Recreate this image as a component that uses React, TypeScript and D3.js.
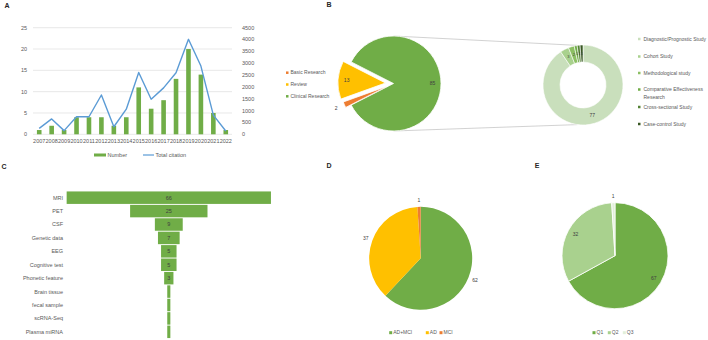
import { useEffect, useRef } from "react";
import * as d3 from "d3";

// A: publications per year + total citations
const years = ["2007", "2008", "2009", "2010", "2011", "2012", "2013", "2014", "2015", "2016", "2017", "2018", "2019", "2020", "2021", "2022"];
const pubCounts = [1, 2, 1, 4, 4, 4, 2, 4, 11, 6, 8, 13, 20, 14, 5, 1];
const citations = [250, 650, 155, 740, 740, 1660, 320, 1060, 2610, 1480, 1960, 2600, 4010, 2880, 810, 140];

// B: study type (pie) and clinical design breakdown (donut)
const studyTypes = ["Clinical Research", "Basic Research", "Review"];
const studyCounts = [85, 2, 13];
const legendOrderB = ["Basic Research", "Review", "Clinical Research"];
const designTypes = ["Diagnostic/Prognostic Study", "Cohort Study", "Methodological study", "Comparative Effectiveness Research", "Cross-sectional Study", "Case-control Study"];
const designCounts = [77, 3, 2, 1, 1, 1];

// C: data modality funnel
const modalities = ["MRI", "PET", "CSF", "Genetic data", "EEG", "Cognitive test", "Phonetic feature", "Brain tissue", "fecal sample", "scRNA-Seq", "Plasma miRNA"];
const modalityCounts = [66, 25, 9, 7, 5, 5, 3, 1, 1, 1, 1];

// D: subjects
const subjectGroups = ["AD+MCI", "AD", "MCI"];
const subjectCounts = [62, 37, 1];

// E: journal quartile
const quartiles = ["Q1", "Q2", "Q3"];
const quartileCounts = [67, 32, 1];

export default function App() {
    const svgRef = useRef<SVGSVGElement>(null);

    useEffect(() => {
        if (!svgRef.current) return;
        const svg = d3.select(svgRef.current);
        svg.selectAll("*").remove();

        const txt = "#595959";
        const green = "#70ad47";
        svg.attr("width", 708).attr("height", 340)
            .style("font-family", "'Liberation Sans', Arial, sans-serif");
        svg.append("rect").attr("width", 708).attr("height", 340).attr("fill", "#fff");

        // panel letters
        const letters: [string, number, number][] = [["A", 7, 6], ["B", 329, 5], ["C", 4, 167], ["D", 329, 166], ["E", 537, 166]];
        svg.selectAll("text.letter").data(letters).join("text")
            .attr("x", d => d[1]).attr("y", d => d[2])
            .attr("text-anchor", "middle").attr("dy", "0.35em")
            .attr("font-size", 7).attr("font-weight", "bold").attr("fill", "#262626")
            .text(d => d[0]);

        // ---------- A ----------
        const aL = 33, aR = 232, aT = 27.7, aB = 134.3;
        const x = d3.scaleBand().domain(years).range([aL, aR]);
        const yL = d3.scaleLinear().domain([0, 25]).range([aB, aT]);
        const yR = d3.scaleLinear().domain([0, 4500]).range([aB, aT]);
        const gA = svg.append("g");

        gA.selectAll("line.grid").data(yL.ticks(5)).join("line")
            .attr("x1", aL).attr("x2", aR)
            .attr("y1", d => yL(d)).attr("y2", d => yL(d))
            .attr("stroke", "#d9d9d9").attr("stroke-width", 0.6);

        gA.selectAll("text.yl").data(yL.ticks(5)).join("text")
            .attr("x", 27).attr("y", d => yL(d)).attr("dy", "0.35em")
            .attr("text-anchor", "end").attr("font-size", 5.5).attr("fill", txt)
            .text(d => d);

        gA.selectAll("text.yr").data(yR.ticks(9)).join("text")
            .attr("x", 242).attr("y", d => yR(d)).attr("dy", "0.35em")
            .attr("font-size", 5.5).attr("fill", txt)
            .text(d => d);

        const bw = x.bandwidth() * 0.37;
        gA.selectAll("rect.bar").data(pubCounts).join("rect")
            .attr("x", (d, i) => x(years[i])! + (x.bandwidth() - bw) / 2)
            .attr("y", d => yL(d)).attr("width", bw).attr("height", d => aB - yL(d))
            .attr("fill", green);

        const line = d3.line<number>()
            .x((d, i) => x(years[i])! + x.bandwidth() / 2)
            .y(d => yR(d));
        gA.append("path").datum(citations)
            .attr("d", line).attr("fill", "none")
            .attr("stroke", "#5b9bd5").attr("stroke-width", 1.4).attr("stroke-linejoin", "round");

        gA.selectAll("text.year").data(years).join("text")
            .attr("x", d => x(d)! + x.bandwidth() / 2).attr("y", 141.5).attr("dy", "0.35em")
            .attr("text-anchor", "middle").attr("font-size", 5.5).attr("fill", txt)
            .text(d => d);

        gA.append("rect").attr("x", 94).attr("y", 153.5).attr("width", 12).attr("height", 3).attr("fill", green);
        gA.append("text").attr("x", 107.5).attr("y", 155).attr("dy", "0.35em").attr("font-size", 5.5).attr("fill", txt).text("Number");
        gA.append("line").attr("x1", 143).attr("x2", 154).attr("y1", 155).attr("y2", 155).attr("stroke", "#5b9bd5").attr("stroke-width", 1.2);
        gA.append("text").attr("x", 155.5).attr("y", 155).attr("dy", "0.35em").attr("font-size", 5.5).attr("fill", txt).text("Total citation");

        // ---------- B ----------
        const gB = svg.append("g");
        const bCx = 393.5, bCy = 83.5, bR = 47.5;
        const deg = Math.PI / 180;
        const studyColors = d3.scaleOrdinal<string, string>().domain(legendOrderB).range(["#ed7d31", "#ffc000", green]);
        const explode: Record<string, number> = { "Clinical Research": 0, "Basic Research": 6, "Review": 8 };
        const pieB = d3.pie<number>().sort(null).startAngle(-63 * deg).endAngle(297 * deg);
        const arcsB = pieB(studyCounts);
        const arcB = d3.arc<d3.PieArcDatum<number>>().innerRadius(0).outerRadius(bR);

        // connector lines to the donut
        const dCx = 583, dCy = 85, dR = 40, dIn = 23;
        const pt = (cx: number, cy: number, r: number, a: number) => [cx + r * Math.sin(a * deg), cy - r * Math.cos(a * deg)];
        const [u1x, u1y] = pt(bCx, bCy, bR, 0);
        const [u2x, u2y] = pt(dCx, dCy, dR, -8);
        const [l1x, l1y] = pt(bCx, bCy, bR, 180);
        const [l2x, l2y] = pt(dCx, dCy, dR, 188);
        gB.append("line").attr("x1", u1x).attr("y1", u1y).attr("x2", u2x).attr("y2", u2y).attr("stroke", "#bfbfbf").attr("stroke-width", 0.7);
        gB.append("line").attr("x1", l1x).attr("y1", l1y).attr("x2", l2x).attr("y2", l2y).attr("stroke", "#bfbfbf").attr("stroke-width", 0.7);

        arcsB.forEach((a, i) => {
            const mid = (a.startAngle + a.endAngle) / 2;
            const off = explode[studyTypes[i]];
            const ox = bCx + off * Math.sin(mid), oy = bCy - off * Math.cos(mid);
            gB.append("path").attr("d", arcB(a)!).attr("transform", `translate(${ox},${oy})`)
                .attr("fill", studyColors(studyTypes[i])).attr("stroke", "#fff").attr("stroke-width", 0.8);
            const lr = studyTypes[i] === "Basic Research" ? bR + 9 : bR * 0.82;
            gB.append("text")
                .attr("x", ox + lr * Math.sin(mid)).attr("y", oy - lr * Math.cos(mid)).attr("dy", "0.35em")
                .attr("text-anchor", "middle").attr("font-size", 5).attr("fill", "#404040")
                .text(studyCounts[i]);
        });

        legendOrderB.forEach((name, i) => {
            const yy = 72.7 + i * 11.8;
            gB.append("rect").attr("x", 286).attr("y", yy - 1.25).attr("width", 2.5).attr("height", 2.5).attr("fill", studyColors(name));
            gB.append("text").attr("x", 290.5).attr("y", yy).attr("dy", "0.35em").attr("font-size", 5).attr("fill", txt).text(name);
        });

        const designColors = ["#c9dfbc", "#a9d18e", "#8cbf63", "#70ad47", "#548235", "#385723"];
        const pieD = d3.pie<number>().sort(null);
        const arcsD = pieD(designCounts);
        const arcDn = d3.arc<d3.PieArcDatum<number>>().innerRadius(dIn).outerRadius(dR);
        arcsD.forEach((a, i) => {
            gB.append("path").attr("d", arcDn(a)!).attr("transform", `translate(${dCx},${dCy})`)
                .attr("fill", designColors[i]).attr("stroke", "#fff").attr("stroke-width", 0.6);
            const [cx, cy] = arcDn.centroid(a);
            gB.append("text").attr("x", dCx + cx).attr("y", dCy + cy).attr("dy", "0.35em")
                .attr("text-anchor", "middle").attr("font-size", i === 0 ? 5 : 4).attr("fill", "#404040")
                .text(designCounts[i]);
        });

        const legendY = [39, 56.5, 73, 89.5, 107, 124];
        designTypes.forEach((name, i) => {
            const yy = legendY[i];
            gB.append("rect").attr("x", 638).attr("y", yy - 1.25).attr("width", 2.5).attr("height", 2.5).attr("fill", designColors[i]);
            if (name === "Comparative Effectiveness Research") {
                gB.append("text").attr("x", 643.5).attr("y", yy).attr("dy", "0.35em").attr("font-size", 5).attr("fill", txt).text("Comparative Effectiveness");
                gB.append("text").attr("x", 643.5).attr("y", yy + 7.5).attr("dy", "0.35em").attr("font-size", 5).attr("fill", txt).text("Research");
            } else {
                gB.append("text").attr("x", 643.5).attr("y", yy).attr("dy", "0.35em").attr("font-size", 5).attr("fill", txt).text(name);
            }
        });

        // ---------- C ----------
        const gC = svg.append("g");
        const yC = d3.scaleBand().domain(modalities).range([190.5, 339]).padding(0.07);
        const wC = d3.scaleLinear().domain([0, 66]).range([0, 204.3]);
        const cMid = 168.8;
        gC.selectAll("rect").data(modalityCounts).join("rect")
            .attr("x", d => cMid - wC(d) / 2).attr("width", d => wC(d))
            .attr("y", (d, i) => yC(modalities[i])!).attr("height", yC.bandwidth())
            .attr("fill", green);
        gC.selectAll("text.cat").data(modalities).join("text")
            .attr("x", 63).attr("y", d => yC(d)! + yC.bandwidth() / 2).attr("dy", "0.35em")
            .attr("text-anchor", "end").attr("font-size", 5.5).attr("fill", txt)
            .text(d => d);
        gC.selectAll("text.val").data(modalityCounts.filter(v => v >= 3)).join("text")
            .attr("x", cMid).attr("y", (d, i) => yC(modalities[i])! + yC.bandwidth() / 2).attr("dy", "0.35em")
            .attr("text-anchor", "middle").attr("font-size", 5.5).attr("fill", "#404040")
            .text(d => d);

        // ---------- D / E pies ----------
        const drawPie = (names: string[], vals: number[], colors: string[], cx: number, cy: number, r: number,
            labelR: (i: number) => number, legendX: number[], stroke: boolean) => {
            const g = svg.append("g");
            const arcs = d3.pie<number>().sort(null)(vals);
            const arc = d3.arc<d3.PieArcDatum<number>>().innerRadius(0).outerRadius(r);
            arcs.forEach((a, i) => {
                g.append("path").attr("d", arc(a)!).attr("transform", `translate(${cx},${cy})`)
                    .attr("fill", colors[i]).attr("stroke", stroke ? "#fff" : "none").attr("stroke-width", 0.8);
                const mid = (a.startAngle + a.endAngle) / 2;
                const lr = labelR(i);
                g.append("text").attr("x", cx + lr * Math.sin(mid)).attr("y", cy - lr * Math.cos(mid)).attr("dy", "0.35em")
                    .attr("text-anchor", "middle").attr("font-size", 5).attr("fill", "#404040")
                    .text(vals[i]);
            });
            names.forEach((n, i) => {
                g.append("rect").attr("x", legendX[i] - 1.5).attr("y", 332.7 - 1.5).attr("width", 3).attr("height", 3).attr("fill", colors[i]);
                g.append("text").attr("x", legendX[i] + 2.5).attr("y", 332.7).attr("dy", "0.35em").attr("font-size", 5).attr("fill", txt).text(n);
            });
        };

        drawPie(subjectGroups, subjectCounts, [green, "#ffc000", "#ed7d31"], 420.7, 258.3, 51.5,
            () => 51.5 + 7, [390.7, 427.3, 441], false);
        drawPie(quartiles, quartileCounts, [green, "#a9d18e", "#e2efda"], 615, 255.7, 53,
            i => (i === 2 ? 53 + 6 : 45), [594, 609.3, 624.3], true);
    }, []);

    return (
        <div style={{ position: "absolute", left: 0, top: 0 }}>
            <svg ref={svgRef} style={{ display: "block" }}></svg>
        </div>
    );
}
